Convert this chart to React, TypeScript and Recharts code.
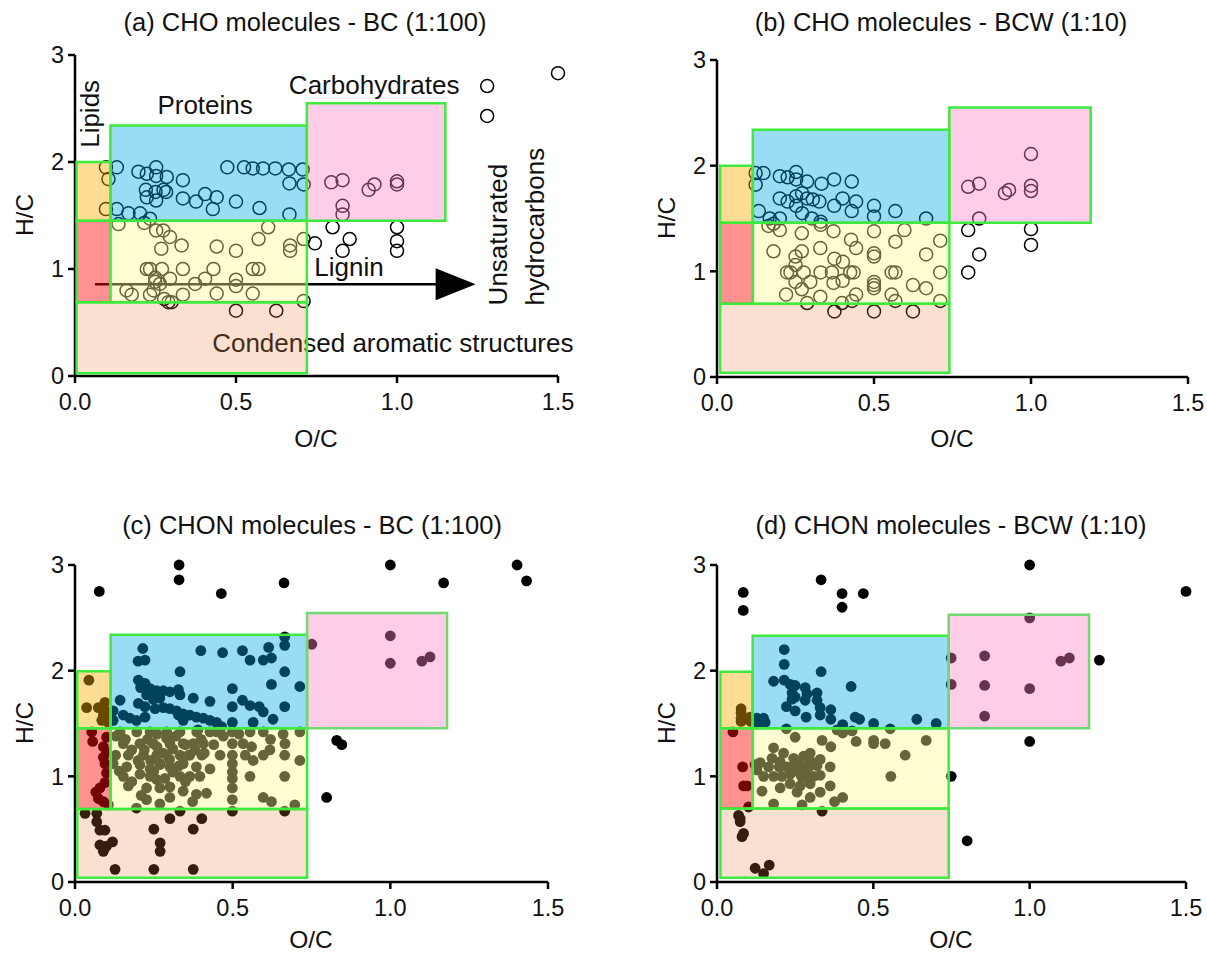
import React from 'react';
import { ScatterChart, Scatter, XAxis, YAxis, ReferenceArea, ReferenceLine, ReferenceDot } from 'recharts';

const FONT = '"Liberation Sans", Arial, Helvetica, sans-serif';

const xTicks = [0, 0.5, 1.0, 1.5];
const yTicks = [0, 1, 2, 3];

const titles = [
  '(a) CHO molecules - BC (1:100)',
  '(b) CHO molecules - BCW (1:10)',
  '(c) CHON molecules - BC (1:100)',
  '(d) CHON molecules - BCW (1:10)',
];

type Pt = [number, number];

// (a) CHO - BC
const choBC: Pt[] = [
  [1.28, 2.71], [1.28, 2.43], [1.5, 2.83],
  [0.096, 1.95], [0.13, 1.95], [0.197, 1.91], [0.223, 1.89], [0.252, 1.95], [0.252, 1.87], [0.285, 1.86], [0.335, 1.83],
  [0.473, 1.95], [0.525, 1.95], [0.552, 1.94], [0.584, 1.94], [0.622, 1.94], [0.664, 1.93], [0.707, 1.93],
  [0.666, 1.80], [0.71, 1.79], [0.104, 1.84],
  [0.22, 1.74], [0.25, 1.72], [0.275, 1.74], [0.283, 1.72], [0.223, 1.67], [0.252, 1.64], [0.335, 1.66], [0.376, 1.63],
  [0.404, 1.70], [0.44, 1.67], [0.428, 1.56], [0.5, 1.63], [0.573, 1.57], [0.666, 1.51],
  [0.096, 1.56], [0.13, 1.56], [0.166, 1.52], [0.202, 1.52], [0.233, 1.47],
  [0.796, 1.81], [0.831, 1.83], [0.912, 1.74], [0.93, 1.79], [1.0, 1.82], [1.0, 1.79], [0.831, 1.59], [0.831, 1.51],
  [0.8, 1.39], [0.853, 1.28], [0.745, 1.24], [0.831, 1.17], [1.0, 1.39], [1.0, 1.26], [1.0, 1.17],
  [0.135, 1.42], [0.215, 1.43], [0.252, 1.36], [0.274, 1.36], [0.295, 1.30], [0.331, 1.22], [0.268, 1.19],
  [0.44, 1.21], [0.5, 1.17], [0.6, 1.39], [0.57, 1.28], [0.668, 1.22], [0.668, 1.17], [0.71, 1.28],
  [0.223, 1.0], [0.233, 1.0], [0.27, 1.0], [0.335, 1.0], [0.43, 1.0], [0.552, 1.0], [0.57, 1.0],
  [0.249, 0.92], [0.249, 0.88], [0.264, 0.86], [0.295, 0.91], [0.373, 0.86], [0.404, 0.91], [0.5, 0.90], [0.5, 0.84],
  [0.16, 0.80], [0.176, 0.76], [0.233, 0.76], [0.244, 0.80], [0.335, 0.76], [0.44, 0.77], [0.552, 0.77],
  [0.277, 0.72], [0.29, 0.69], [0.30, 0.69], [0.71, 0.70],
  [0.5, 0.61], [0.625, 0.61],
];

// (b) CHO - BCW
const choBCW: Pt[] = [
  [0.123, 1.93], [0.148, 1.93], [0.123, 1.82], [0.2, 1.90], [0.225, 1.89], [0.252, 1.94], [0.252, 1.87], [0.287, 1.85],
  [0.333, 1.83], [0.373, 1.87], [0.429, 1.85],
  [0.2, 1.69], [0.225, 1.66], [0.252, 1.71], [0.271, 1.74], [0.287, 1.69], [0.305, 1.68], [0.326, 1.66], [0.252, 1.62],
  [0.271, 1.55], [0.302, 1.50], [0.373, 1.62], [0.4, 1.69], [0.443, 1.66], [0.429, 1.57], [0.5, 1.62], [0.5, 1.52],
  [0.568, 1.57], [0.666, 1.50], [0.133, 1.57], [0.168, 1.50], [0.2, 1.50], [0.33, 1.47],
  [0.8, 1.80], [0.835, 1.83], [0.917, 1.74], [0.93, 1.77], [1.0, 2.11], [1.0, 1.81], [1.0, 1.76], [0.835, 1.50],
  [0.8, 1.39], [1.0, 1.40], [1.0, 1.25], [0.835, 1.16], [0.8, 0.99],
  [0.164, 1.43], [0.18, 1.45], [0.2, 1.39], [0.27, 1.36], [0.33, 1.44], [0.371, 1.38], [0.5, 1.38], [0.597, 1.39],
  [0.18, 1.19], [0.25, 1.14], [0.25, 1.06], [0.27, 1.19], [0.329, 1.22], [0.374, 1.12], [0.401, 1.09], [0.427, 1.30],
  [0.443, 1.22], [0.5, 1.17], [0.5, 1.14], [0.568, 1.28], [0.666, 1.16], [0.711, 1.29],
  [0.223, 0.99], [0.234, 0.99], [0.276, 0.99], [0.33, 0.99], [0.366, 0.99], [0.424, 0.99], [0.435, 0.99],
  [0.556, 0.99], [0.568, 0.99], [0.711, 0.99],
  [0.25, 0.90], [0.27, 0.83], [0.297, 0.90], [0.371, 0.89], [0.4, 0.91], [0.5, 0.90], [0.5, 0.87], [0.5, 0.84],
  [0.624, 0.87], [0.666, 0.84],
  [0.22, 0.78], [0.329, 0.76], [0.443, 0.78], [0.556, 0.78],
  [0.287, 0.70], [0.398, 0.70], [0.43, 0.72], [0.568, 0.72], [0.711, 0.72],
  [0.374, 0.62], [0.5, 0.62], [0.624, 0.62],
];

// (c) CHON - BC
const chonBC: Pt[] = [
  [0.077, 2.75], [0.33, 3.0], [0.33, 2.86], [0.464, 2.73], [0.663, 2.83], [1.0, 3.0], [1.169, 2.83], [1.402, 3.0], [1.432, 2.85],
  [0.665, 2.32], [0.665, 2.24], [0.751, 2.25], [1.0, 2.33], [1.0, 2.07], [1.1, 2.09], [1.126, 2.13],
  [0.83, 1.34], [0.846, 1.30], [0.798, 0.80],
  [0.215, 2.21], [0.2, 2.09], [0.222, 2.10], [0.399, 2.19], [0.468, 2.17], [0.531, 2.19], [0.555, 2.10], [0.597, 2.10],
  [0.614, 2.22], [0.623, 2.12], [0.665, 1.99], [0.713, 1.85], [0.623, 1.87],
  [0.333, 1.99], [0.499, 1.83], [0.499, 1.66], [0.428, 1.71], [0.375, 1.74], [0.531, 1.72], [0.555, 1.67], [0.584, 1.66],
  [0.597, 1.61], [0.665, 1.66], [0.628, 1.54], [0.565, 1.51], [0.499, 1.51], [0.465, 1.47],
  [0.201, 1.91], [0.211, 1.88], [0.222, 1.88], [0.208, 1.84], [0.238, 1.83], [0.259, 1.81], [0.28, 1.81], [0.301, 1.80],
  [0.328, 1.82], [0.333, 1.77], [0.269, 1.74], [0.248, 1.73], [0.227, 1.77], [0.201, 1.69], [0.222, 1.66], [0.254, 1.64],
  [0.28, 1.65], [0.301, 1.64], [0.322, 1.62], [0.343, 1.59], [0.364, 1.58], [0.385, 1.56], [0.407, 1.55], [0.428, 1.53],
  [0.449, 1.51], [0.143, 1.72], [0.153, 1.58], [0.174, 1.55], [0.195, 1.53], [0.222, 1.56], [0.121, 1.62], [0.121, 1.53],
  [0.328, 1.58], [0.343, 1.53],
  [0.044, 1.91], [0.037, 1.65], [0.074, 1.65], [0.095, 1.70], [0.09, 1.58], [0.1, 1.61], [0.085, 1.53], [0.106, 1.51],
  [0.053, 1.42], [0.056, 1.33], [0.09, 1.28], [0.1, 1.23], [0.09, 1.18], [0.095, 1.12], [0.1, 1.03], [0.095, 0.94],
  [0.079, 0.89], [0.066, 0.85], [0.074, 0.79], [0.09, 0.76], [0.106, 0.73], [0.1, 1.37],
  [0.032, 0.65], [0.069, 0.65], [0.069, 0.57], [0.079, 0.49], [0.095, 0.49], [0.079, 0.35], [0.09, 0.29], [0.1, 0.34],
  [0.119, 0.38], [0.127, 0.12], [0.25, 0.50], [0.27, 0.37], [0.27, 0.29], [0.25, 0.12], [0.301, 0.60], [0.375, 0.50],
  [0.402, 0.60], [0.375, 0.12], [0.333, 0.67], [0.499, 0.67], [0.665, 0.67],
  [0.143, 1.42], [0.196, 1.42], [0.238, 1.42], [0.291, 1.42], [0.333, 1.42], [0.386, 1.42], [0.428, 1.42], [0.449, 1.42],
  [0.499, 1.42], [0.555, 1.42], [0.597, 1.42], [0.713, 1.42],
  [0.153, 1.31], [0.206, 1.31], [0.248, 1.31], [0.301, 1.31], [0.343, 1.31], [0.375, 1.31], [0.407, 1.31], [0.499, 1.31],
  [0.533, 1.31], [0.56, 1.28], [0.618, 1.25], [0.666, 1.31],
  [0.129, 1.20], [0.169, 1.20], [0.217, 1.20], [0.259, 1.20], [0.291, 1.20], [0.333, 1.20], [0.364, 1.20], [0.402, 1.20],
  [0.46, 1.20], [0.499, 1.20], [0.565, 1.15], [0.597, 1.20], [0.665, 1.20], [0.713, 1.15],
  [0.121, 1.12], [0.164, 1.09], [0.206, 1.11], [0.238, 1.07], [0.269, 1.11], [0.301, 1.09], [0.343, 1.12], [0.385, 1.09],
  [0.428, 1.07], [0.499, 1.12], [0.499, 1.04],
  [0.153, 1.0], [0.206, 1.02], [0.238, 1.0], [0.259, 0.97], [0.285, 0.98], [0.333, 1.0], [0.364, 1.0], [0.396, 1.0],
  [0.499, 0.98], [0.555, 1.0], [0.665, 1.0],
  [0.169, 0.91], [0.227, 0.89], [0.269, 0.89], [0.301, 0.90], [0.343, 0.86], [0.385, 0.83], [0.499, 0.89], [0.597, 0.80],
  [0.227, 0.78], [0.269, 0.74], [0.301, 0.80], [0.373, 0.76], [0.417, 0.84], [0.499, 0.78], [0.623, 0.76], [0.697, 0.73], [0.195, 0.70],
  [0.22, 1.25], [0.24, 1.15], [0.26, 1.28], [0.28, 1.22], [0.30, 1.16], [0.25, 1.05], [0.27, 1.12], [0.31, 1.26], [0.33, 1.10],
  [0.35, 1.30], [0.23, 1.35], [0.29, 1.36], [0.36, 1.20], [0.38, 1.25], [0.40, 1.35], [0.32, 1.38], [0.41, 1.22], [0.44, 1.30],
  [0.47, 1.38], [0.52, 1.40], [0.54, 1.20], [0.62, 1.35], [0.66, 1.40], [0.18, 1.25], [0.20, 1.15], [0.16, 1.35], [0.14, 1.05],
  [0.18, 0.95], [0.13, 1.38], [0.45, 1.44], [0.39, 1.44], [0.26, 1.40], [0.31, 1.04], [0.35, 0.95], [0.21, 0.82],
];

// (d) CHON - BCW
const chonBCW: Pt[] = [
  [0.084, 2.74], [0.084, 2.57], [0.333, 2.86], [0.4, 2.73], [0.4, 2.60], [0.468, 2.73], [1.0, 3.0], [1.5, 2.75],
  [1.223, 2.10], [1.0, 1.33], [0.749, 1.0], [0.8, 0.39],
  [0.749, 2.12], [0.749, 1.87], [0.856, 2.14], [0.856, 1.86], [0.856, 1.57], [1.0, 2.50], [1.0, 1.83], [1.1, 2.09], [1.127, 2.12],
  [0.215, 2.20], [0.215, 2.06], [0.181, 1.90], [0.215, 1.91], [0.234, 1.87], [0.25, 1.86], [0.24, 1.79], [0.24, 1.73],
  [0.25, 1.75], [0.282, 1.84], [0.288, 1.78], [0.282, 1.72], [0.32, 1.79], [0.32, 1.72], [0.333, 1.99], [0.222, 1.66],
  [0.25, 1.62], [0.33, 1.65], [0.364, 1.63], [0.285, 1.56], [0.33, 1.58], [0.364, 1.54], [0.429, 1.85], [0.402, 1.49],
  [0.442, 1.56], [0.456, 1.54], [0.501, 1.50], [0.639, 1.54], [0.701, 1.50],
  [0.128, 1.55], [0.149, 1.55], [0.154, 1.51], [0.133, 1.50], [0.112, 1.54],
  [0.077, 1.64], [0.077, 1.60], [0.077, 1.55], [0.077, 1.52], [0.106, 1.56], [0.108, 1.52],
  [0.051, 1.42], [0.082, 1.09], [0.085, 0.91], [0.096, 0.91], [0.101, 0.71],
  [0.069, 0.63], [0.074, 0.57], [0.08, 0.43], [0.085, 0.46], [0.336, 0.67], [0.122, 0.13], [0.149, 0.08], [0.167, 0.16], [0.074, 0.60],
  [0.222, 1.45], [0.25, 1.37], [0.336, 1.34], [0.364, 1.28], [0.402, 1.41], [0.432, 1.43], [0.445, 1.33], [0.501, 1.34],
  [0.501, 1.31], [0.538, 1.31], [0.554, 1.45], [0.669, 1.34], [0.602, 1.20], [0.556, 1.0], [0.384, 1.44],
  [0.181, 1.27], [0.213, 1.22], [0.176, 1.17], [0.202, 1.14], [0.245, 1.17], [0.277, 1.19], [0.298, 1.15], [0.33, 1.16],
  [0.362, 1.09], [0.138, 1.13], [0.128, 1.06], [0.165, 1.09], [0.149, 1.0], [0.181, 1.0], [0.208, 1.0], [0.234, 1.02],
  [0.261, 1.04], [0.288, 1.05], [0.309, 1.0], [0.33, 1.01], [0.245, 1.09], [0.277, 1.09], [0.298, 1.10], [0.224, 1.09],
  [0.199, 1.09], [0.234, 0.93], [0.266, 0.91], [0.298, 0.93], [0.362, 0.91], [0.33, 0.85], [0.256, 0.85], [0.202, 0.89],
  [0.144, 0.86], [0.181, 0.74], [0.272, 0.73], [0.298, 0.80], [0.376, 0.76], [0.402, 0.80], [0.122, 1.11], [0.298, 1.22],
  [0.32, 1.10], [0.26, 1.13], [0.29, 0.98], [0.24, 1.05], [0.27, 1.0],
];

type Region = { key: string; x1: number; x2: number; y1: number; y2: number };

const regionsA: Region[] = [
  { key: 'condensed', x1: 0.005, x2: 0.72, y1: 0.025, y2: 0.69 },
  { key: 'unsaturated', x1: 0.005, x2: 0.11, y1: 0.69, y2: 1.45 },
  { key: 'lipids', x1: 0.005, x2: 0.11, y1: 1.45, y2: 2.0 },
  { key: 'lignin', x1: 0.11, x2: 0.72, y1: 0.69, y2: 1.45 },
  { key: 'proteins', x1: 0.11, x2: 0.72, y1: 1.45, y2: 2.34 },
  { key: 'carbohydrates', x1: 0.72, x2: 1.15, y1: 1.45, y2: 2.55 },
];
const regionsB: Region[] = [
  { key: 'condensed', x1: 0.01, x2: 0.74, y1: 0.04, y2: 0.694 },
  { key: 'unsaturated', x1: 0.01, x2: 0.114, y1: 0.694, y2: 1.46 },
  { key: 'lipids', x1: 0.01, x2: 0.114, y1: 1.46, y2: 2.0 },
  { key: 'lignin', x1: 0.114, x2: 0.74, y1: 0.694, y2: 1.46 },
  { key: 'proteins', x1: 0.114, x2: 0.74, y1: 1.46, y2: 2.34 },
  { key: 'carbohydrates', x1: 0.74, x2: 1.19, y1: 1.46, y2: 2.55 },
];
const regionsC: Region[] = [
  { key: 'condensed', x1: 0.007, x2: 0.736, y1: 0.04, y2: 0.69 },
  { key: 'unsaturated', x1: 0.007, x2: 0.113, y1: 0.69, y2: 1.456 },
  { key: 'lipids', x1: 0.007, x2: 0.113, y1: 1.456, y2: 1.995 },
  { key: 'lignin', x1: 0.113, x2: 0.736, y1: 0.69, y2: 1.456 },
  { key: 'proteins', x1: 0.113, x2: 0.736, y1: 1.456, y2: 2.34 },
  { key: 'carbohydrates', x1: 0.736, x2: 1.18, y1: 1.456, y2: 2.545 },
];
const regionsD: Region[] = [
  { key: 'condensed', x1: 0.011, x2: 0.741, y1: 0.04, y2: 0.695 },
  { key: 'unsaturated', x1: 0.011, x2: 0.114, y1: 0.695, y2: 1.456 },
  { key: 'lipids', x1: 0.011, x2: 0.114, y1: 1.456, y2: 1.99 },
  { key: 'lignin', x1: 0.114, x2: 0.741, y1: 0.695, y2: 1.456 },
  { key: 'proteins', x1: 0.114, x2: 0.741, y1: 1.456, y2: 2.33 },
  { key: 'carbohydrates', x1: 0.741, x2: 1.19, y1: 1.456, y2: 2.53 },
];

const regionStyle: Record<string, { fill: string; opacity: number }> = {
  condensed: { fill: '#EA7B37', opacity: 0.235 },
  unsaturated: { fill: '#FF0A0A', opacity: 0.45 },
  lipids: { fill: '#FAAC00', opacity: 0.42 },
  lignin: { fill: '#FFFA8E', opacity: 0.4 },
  proteins: { fill: '#05A7E6', opacity: 0.4 },
  carbohydrates: { fill: '#FF82C5', opacity: 0.4 },
};

// annotation texts of panel (a), in data coordinates
const annotations = [
  { text: 'Lipids', x: 0.075, y: 2.45, rotate: true, anchor: 'middle' },
  { text: 'Proteins', x: 0.404, y: 2.452, rotate: false, anchor: 'middle' },
  { text: 'Carbohydrates', x: 0.929, y: 2.64, rotate: false, anchor: 'middle' },
  { text: 'Lignin', x: 0.851, y: 0.935, rotate: false, anchor: 'middle' },
  { text: 'Condensed aromatic structures', x: 0.426, y: 0.222, rotate: false, anchor: 'start' },
  { text: 'Unsaturated', x: 1.342, y: 0.66, rotate: true, anchor: 'start' },
  { text: 'hydrocarbons', x: 1.457, y: 0.66, rotate: true, anchor: 'start' },
];
const arrowStart = { x: 0.062, y: 0.857 };
const arrowHead = { x: 1.12, y: 0.857 };

const axisStroke = { stroke: '#000', strokeWidth: 2.5 };
const tickStyle = { fontSize: 23.5, fill: '#111', fontFamily: FONT };

type PanelProps = {
  left: number; top: number; width: number; height: number;
  mt: number; mr: number; xAxisH: number;
  data: Pt[]; regions: Region[]; filled: boolean; annotate?: boolean; carbStroke?: string;
};

function Panel({ left, top, width, height, mt, mr, xAxisH, data, regions, filled, annotate, carbStroke }: PanelProps) {
  const pts = data.map(([x, y]) => ({ x, y }));
  const shape = (p: any) =>
    filled ? (
      <circle cx={p.cx} cy={p.cy} r={5.4} fill="#000" />
    ) : (
      <circle cx={p.cx} cy={p.cy} r={6.5} fill="none" stroke="#000" strokeWidth={1.5} />
    );
  return (
    <div style={{ position: 'absolute', left, top, width, height }}>
      <ScatterChart width={width} height={height} margin={{ top: mt, right: mr, bottom: 0, left: 0 }}>
        <XAxis
          type="number"
          dataKey="x"
          domain={[0, 1.5]}
          ticks={xTicks}
          interval={0}
          tickFormatter={(v: number) => v.toFixed(1)}
          height={xAxisH}
          axisLine={axisStroke}
          tickLine={axisStroke}
          tickSize={7}
          tickMargin={10}
          tick={tickStyle}
        />
        <YAxis
          type="number"
          dataKey="y"
          domain={[0, 3]}
          ticks={yTicks}
          interval={0}
          width={75}
          axisLine={axisStroke}
          tickLine={axisStroke}
          tickSize={7}
          tickMargin={4}
          tick={tickStyle}
        />
        <Scatter data={pts} isAnimationActive={false} shape={shape} />
        {annotate && (
          <ReferenceLine
            segment={[arrowStart, { x: arrowHead.x + 0.01, y: arrowHead.y }]}
            stroke="#000"
            strokeWidth={2.5}
            zIndex={620}
          />
        )}
        {annotate && (
          <ReferenceDot
            x={arrowHead.x}
            y={arrowHead.y}
            zIndex={620}
            shape={(p: any) => (
              <polygon points={`${p.cx},${p.cy - 16} ${p.cx + 40},${p.cy} ${p.cx},${p.cy + 16}`} fill="#000" />
            )}
          />
        )}
        {annotate &&
          annotations.map((a) => (
            <ReferenceDot
              key={a.text}
              x={a.x}
              y={a.y}
              zIndex={620}
              shape={(p: any) => (
                <text
                  x={p.cx}
                  y={p.cy}
                  textAnchor={a.anchor as any}
                  fontSize={26}
                  fontFamily={FONT}
                  fill="#111"
                  transform={a.rotate ? `rotate(-90 ${p.cx} ${p.cy})` : undefined}
                >
                  {a.text}
                </text>
              )}
            />
          ))}
        {regions.map((r) => (
          <ReferenceArea
            key={r.key}
            x1={r.x1}
            x2={r.x2}
            y1={r.y1}
            y2={r.y2}
            fill={regionStyle[r.key].fill}
            fillOpacity={regionStyle[r.key].opacity}
            stroke={r.key === 'carbohydrates' && carbStroke ? carbStroke : '#3DEB3D'}
            strokeWidth={2.5}
            ifOverflow="visible"
            zIndex={700}
          />
        ))}
      </ScatterChart>
    </div>
  );
}

const textBase: React.CSSProperties = {
  position: 'absolute',
  fontFamily: FONT,
  color: '#111',
  whiteSpace: 'nowrap',
  lineHeight: 1,
};

function Label({ x, y, text, size, rotate }: { x: number; y: number; text: string; size: number; rotate?: boolean }) {
  return (
    <div
      style={{
        ...textBase,
        left: x,
        top: y,
        fontSize: size,
        transform: `translate(-50%, -50%)${rotate ? ' rotate(-90deg)' : ''}`,
      }}
    >
      {text}
    </div>
  );
}

export default function App() {
  return (
    <div style={{ position: 'absolute', left: 0, top: 0, width: 1207, height: 955, background: '#fff', overflow: 'hidden' }}>
      <Panel left={0} top={0} width={600} height={460} mt={55} mr={42} xAxisH={84} data={choBC} regions={regionsA} filled={false} annotate />
      <Panel left={642} top={0} width={565} height={460} mt={60} mr={19} xAxisH={83} data={choBCW} regions={regionsB} filled={false} />
      <Panel left={0} top={500} width={600} height={455} mt={65} mr={52} xAxisH={73} data={chonBC} regions={regionsC} filled carbStroke="#72D872" />
      <Panel left={642} top={500} width={565} height={455} mt={65} mr={21} xAxisH={73} data={chonBCW} regions={regionsD} filled carbStroke="#72D872" />

      <Label x={305} y={23} text={titles[0]} size={25.5} />
      <Label x={941} y={23} text={titles[1]} size={25.5} />
      <Label x={312} y={526} text={titles[2]} size={25.5} />
      <Label x={951} y={526} text={titles[3]} size={25.5} />

      <Label x={316} y={439} text="O/C" size={24.5} />
      <Label x={952} y={439} text="O/C" size={24.5} />
      <Label x={311} y={940} text="O/C" size={24.5} />
      <Label x={951} y={940} text="O/C" size={24.5} />

      <Label x={25} y={215} text="H/C" size={24.5} rotate />
      <Label x={667} y={218} text="H/C" size={24.5} rotate />
      <Label x={25} y={723} text="H/C" size={24.5} rotate />
      <Label x={667} y={723} text="H/C" size={24.5} rotate />
    </div>
  );
}
